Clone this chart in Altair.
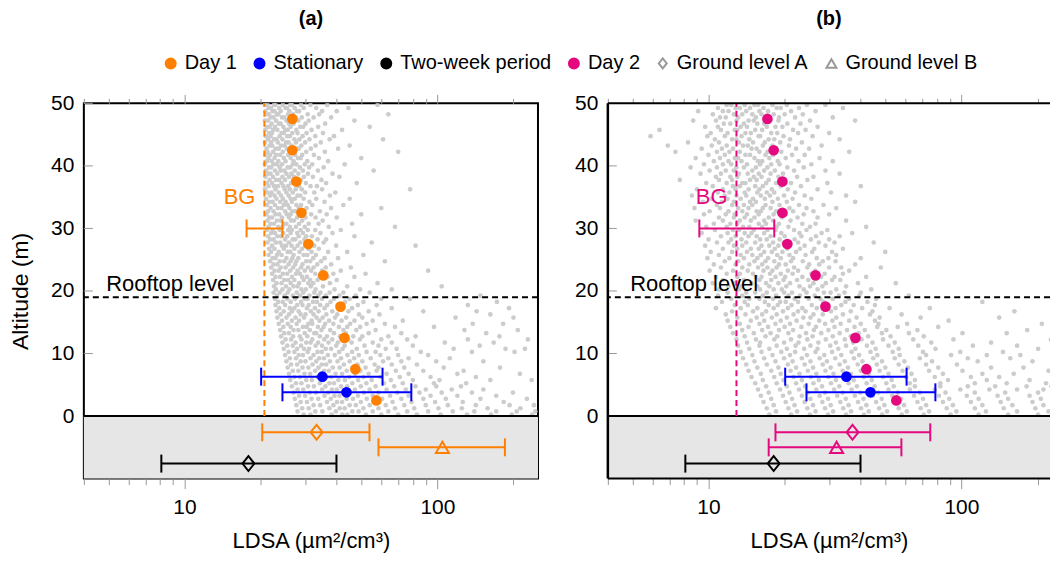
import altair as alt
import pandas as pd

FONT = "Liberation Sans"
ORANGE = "#ff8000"
PINK = "#e5097f"
BLUE = "#0000ff"
BLACK = "#000000"
CLOUD = "#cccccc"
GROUND_FILL = "#e6e6e6"
TICK_GRAY = "#999999"

# ---------------- data ----------------
heights = [47.5, 42.5, 37.5, 32.5, 27.5, 22.5, 17.5, 12.5, 7.5, 2.5]
day1_ldsa = [26.7, 26.7, 27.7, 29.0, 30.9, 35.4, 41.4, 42.9, 47.4, 57.4]
day2_ldsa = [17.1, 18.1, 19.6, 19.6, 20.5, 26.5, 29.0, 38.1, 42.1, 55.3]

stat_alt = [6.3, 3.8]
stat_ldsa = [35.1, 43.7]
stat_lo = [20.1, 24.4]
stat_hi = [60.7, 78.9]

bg_alt = [30]
bg_label_alt = [35]
bg_a = [20.7]
bg_a_lo = [17.6]
bg_a_hi = [24.4]
bg_b = [12.9]
bg_b_lo = [9.2]
bg_b_hi = [18.2]

ground_names = ["Ground level A", "Ground level B", "Two-week period"]
ground_alt = [-2.6, -5.0, -7.6]
ground_a_ldsa = [33.3, 104.7, 17.9]
ground_a_lo = [20.3, 58.5, 8.1]
ground_a_hi = [53.9, 185.0, 39.9]
ground_b_ldsa = [37.1, 32.1, 18.1]
ground_b_lo = [18.4, 17.3, 8.1]
ground_b_hi = [75.3, 57.9, 39.9]

rooftop_alt = [19]
rooftop_label_x = [4.9]
ground_top = [0]
ground_bottom = [-10]
alt_top = [50]
x_domain_a = [4, 250]
x_domain_b = [4, 224]

x_ticks = [4, 5, 6, 7, 8, 9, 10, 20, 30, 40, 50, 60, 70, 80, 90, 100, 200]
y_ticks = [0, 10, 20, 30, 40, 50]

legend_names = ["Day 1", "Stationary", "Two-week period", "Day 2", "Ground level A", "Ground level B"]

# background cloud of individual readings (altitude row, LDSA values)
cloud_a = [
    (49.75, [20.8, 21.3, 22.6, 22.9, 24.5, 26.2, 26.6, 28.9, 31.5, 36.7, 58]),
    (49.25, [21.5, 22.0, 23.7, 25.1, 25.4, 27.3, 29.6, 33.2, 44.5]),
    (48.75, [20.9, 22.3, 22.7, 24.0, 26.0, 27.9, 28.4, 35.0, 40]),
    (48.25, [21.1, 21.6, 23.2, 23.5, 25.7, 26.9, 30.7, 34.1, 64]),
    (47.75, [21.9, 22.5, 24.3, 24.8, 27.5, 29.1, 32.4, 38]),
    (47.25, [20.8, 21.4, 23.0, 25.3, 26.4, 26.8, 28.2, 31.0, 47]),
    (46.75, [22.1, 23.6, 24.0, 25.9, 27.0, 30.1, 36.0]),
    (46.25, [21.2, 21.7, 22.8, 24.6, 26.3, 28.7, 29.5, 33.8, 54]),
    (45.75, [20.9, 22.4, 23.3, 25.0, 25.6, 27.7, 31.8, 42]),
    (45.25, [21.6, 22.2, 24.2, 24.7, 26.7, 28.0, 30.4, 35.3]),
    (44.75, [21.0, 21.9, 23.8, 25.5, 26.1, 29.3, 32.9, 39]),
    (44.25, [21.4, 22.6, 23.1, 24.4, 27.2, 28.5, 31.2, 37.5, 61]),
    (43.75, [20.8, 22.0, 23.4, 25.2, 25.8, 27.6, 30.0, 34.6]),
    (43.25, [21.7, 22.2, 24.1, 24.9, 26.5, 29.0, 33.0, 45]),
    (42.75, [21.1, 22.9, 23.6, 25.4, 27.9, 28.3, 31.6, 40.5]),
    (42.25, [21.3, 22.4, 24.5, 26.0, 26.6, 30.3, 35.9, 70]),
    (41.75, [20.9, 21.8, 23.0, 23.9, 25.7, 27.4, 29.2, 32.5]),
    (41.25, [21.5, 22.7, 24.7, 26.3, 28.1, 28.8, 34.0, 50]),
    (40.75, [21.2, 22.1, 23.5, 25.1, 27.0, 30.6, 37.0]),
    (40.25, [20.8, 22.5, 23.2, 24.3, 26.8, 27.7, 29.9, 32.0, 43]),
    (39.75, [21.6, 22.0, 23.8, 25.6, 26.2, 28.6, 31.1, 35.5]),
    (39.25, [21.0, 22.8, 24.0, 24.8, 27.3, 29.4, 33.7, 56]),
    (38.75, [21.4, 21.9, 23.3, 25.3, 26.5, 28.2, 30.8, 38.5]),
    (38.25, [20.9, 22.4, 24.4, 25.9, 27.1, 29.7, 32.2, 41]),
    (37.75, [21.7, 23.0, 23.7, 25.0, 26.9, 28.9, 34.8]),
    (37.25, [21.2, 22.2, 24.2, 26.4, 27.8, 30.2, 36.3, 48]),
    (36.75, [21.5, 22.6, 23.4, 24.6, 25.7, 28.4, 31.5, 33.4]),
    (36.25, [20.8, 22.9, 24.9, 26.1, 27.5, 29.1, 35.0, 78]),
    (35.75, [21.3, 22.1, 23.6, 25.3, 26.8, 30.0, 32.6, 39.5]),
    (35.25, [21.8, 22.7, 24.1, 25.8, 28.0, 28.7, 37.6]),
    (34.75, [21.0, 23.1, 24.5, 26.3, 27.3, 29.6, 33.2, 45]),
    (34.25, [21.6, 22.3, 23.9, 25.1, 26.6, 31.2, 35.8]),
    (33.75, [21.2, 22.8, 24.7, 25.6, 27.7, 28.9, 32.0, 42.5]),
    (33.25, [21.9, 23.4, 24.2, 26.0, 28.3, 30.4, 38.0, 60]),
    (32.75, [21.4, 22.5, 25.0, 26.7, 27.4, 29.5, 34.3]),
    (32.25, [21.1, 22.9, 23.7, 25.4, 26.3, 28.6, 31.7, 36.5, 50]),
    (31.75, [21.7, 22.2, 24.3, 25.9, 27.9, 30.1, 33.0, 40]),
    (31.25, [21.3, 23.2, 24.0, 26.4, 27.1, 29.2, 35.2]),
    (30.75, [21.9, 22.6, 24.8, 25.3, 28.4, 31.0, 33.9, 46]),
    (30.25, [21.5, 23.5, 24.4, 26.1, 27.6, 29.9, 37.2, 68]),
    (29.75, [21.2, 22.3, 23.8, 25.7, 26.6, 28.8, 30.7, 32.9, 41.5]),
    (29.25, [22.0, 22.8, 24.6, 26.3, 27.9, 29.4, 34.5, 38.5]),
    (28.75, [21.4, 23.3, 24.1, 25.5, 28.3, 30.3, 31.9, 47]),
    (28.25, [21.8, 22.5, 25.0, 26.8, 27.4, 29.8, 33.6, 36.3]),
    (27.75, [21.3, 23.0, 23.9, 25.9, 28.7, 31.3, 35.5, 55]),
    (27.25, [22.2, 24.3, 25.2, 26.5, 28.0, 30.0, 32.6, 39.8, 82]),
    (26.75, [21.6, 22.7, 24.7, 27.2, 29.2, 30.9, 34.0]),
    (26.25, [22.0, 23.6, 25.6, 26.2, 28.5, 31.8, 37.0, 44]),
    (25.75, [21.5, 23.2, 24.2, 27.0, 29.6, 30.6, 33.1, 51]),
    (25.25, [22.3, 22.9, 25.3, 26.7, 28.2, 32.3, 35.8, 40.5]),
    (24.75, [21.8, 23.8, 24.8, 26.3, 27.7, 30.3, 31.4, 34.7, 62]),
    (24.25, [22.5, 23.3, 25.8, 27.4, 29.3, 33.5, 38.0]),
    (23.75, [22.0, 24.0, 25.1, 26.9, 28.9, 30.8, 32.4, 36.2, 45.5]),
    (23.25, [22.7, 23.6, 26.2, 28.0, 29.9, 31.7, 35.0, 41.5, 92]),
    (22.75, [22.2, 24.5, 25.5, 27.6, 28.6, 32.9, 38.8, 52]),
    (22.25, [22.9, 23.9, 26.6, 29.2, 30.5, 34.2, 36.8, 47]),
    (21.75, [22.4, 24.8, 25.7, 27.2, 29.6, 31.4, 33.6, 40.0]),
    (21.25, [23.1, 24.2, 26.3, 28.4, 30.9, 32.3, 37.6, 58]),
    (20.75, [22.6, 25.2, 27.0, 28.0, 31.6, 35.3, 44.0, 104]),
    (20.25, [23.0, 24.4, 26.0, 29.0, 30.2, 33.0, 39.2, 49.5, 66]),
    (19.75, [22.5, 23.8, 25.6, 27.8, 29.5, 32.6, 34.5, 37.5, 42.5, 54]),
    (19.25, [23.2, 24.9, 26.8, 28.6, 31.2, 33.8, 36.2, 41.0, 47.5, 148]),
    (18.75, [22.8, 25.5, 27.4, 29.9, 30.7, 35.0, 39.0, 45.0, 60, 78]),
    (18.25, [23.5, 24.5, 26.3, 28.9, 32.2, 33.4, 37.8, 43.2, 51, 172]),
    (17.75, [22.9, 25.0, 27.9, 29.3, 31.0, 34.4, 36.7, 40.5, 48.5, 57.5, 132]),
    (17.25, [23.7, 26.1, 27.2, 30.5, 32.8, 35.8, 42.0, 46.0, 66, 192]),
    (16.75, [23.1, 24.7, 26.6, 28.3, 31.6, 33.9, 38.4, 44.5, 53.5, 88, 143]),
    (16.25, [24.0, 25.9, 28.8, 30.1, 32.4, 36.4, 40.2, 49.0, 59, 162]),
    (15.75, [23.3, 25.3, 27.5, 29.7, 33.3, 35.2, 39.4, 43.6, 50.5, 118, 200]),
    (15.25, [24.3, 26.6, 28.4, 31.8, 34.2, 37.3, 41.8, 47.0, 55.5, 73]),
    (14.75, [23.6, 25.6, 27.8, 30.9, 32.0, 36.0, 38.8, 45.2, 52.5, 62, 138, 182]),
    (14.25, [24.6, 26.3, 29.4, 30.4, 33.7, 35.5, 40.8, 44.0, 49.5, 68, 97]),
    (13.75, [23.9, 27.0, 28.2, 31.3, 34.8, 37.7, 42.5, 47.8, 57, 128, 208]),
    (13.25, [24.8, 25.9, 29.9, 32.6, 33.2, 39.0, 43.4, 53.5, 72, 156]),
    (12.75, [24.1, 26.9, 28.6, 30.6, 34.3, 36.6, 41.2, 46.5, 50.5, 64, 82, 176]),
    (12.25, [25.1, 26.4, 29.0, 32.0, 35.7, 38.4, 44.4, 49.4, 60, 76, 132, 228]),
    (11.75, [24.4, 27.5, 30.3, 31.5, 33.8, 37.1, 40.4, 45.8, 55.5, 66, 107, 167]),
    (11.25, [25.5, 26.8, 28.9, 33.0, 35.0, 39.8, 43.0, 51.5, 58.5, 80, 147]),
    (10.75, [24.7, 27.9, 29.7, 31.1, 36.2, 38.0, 42.2, 48.0, 62.5, 69, 116, 186, 222]),
    (10.25, [25.8, 27.2, 30.7, 33.6, 34.9, 40.9, 46.0, 52.5, 57, 86, 137, 202]),
    (9.75, [25.0, 28.3, 29.4, 32.4, 36.9, 39.3, 44.1, 48.9, 59.5, 70, 92]),
    (9.25, [26.1, 27.6, 31.5, 34.1, 35.6, 41.6, 46.9, 54.5, 64, 77, 112]),
    (8.75, [25.3, 28.8, 30.1, 33.2, 37.6, 40.3, 45.0, 50.5, 61, 72, 99, 152]),
    (8.25, [26.4, 27.9, 32.1, 34.9, 36.3, 42.7, 48.3, 56.5, 66, 83]),
    (7.75, [25.6, 29.3, 30.9, 33.9, 38.6, 41.1, 46.2, 52.0, 58.5, 74, 106, 177]),
    (7.25, [26.8, 28.2, 32.9, 35.7, 37.2, 43.8, 49.6, 57.5, 68.5, 88, 127]),
    (6.75, [25.9, 29.8, 31.4, 34.6, 39.6, 42.0, 47.3, 53.5, 63, 77, 120, 212]),
    (6.25, [27.2, 28.6, 33.6, 36.5, 38.1, 44.9, 51.0, 59.5, 71, 94, 142]),
    (5.75, [26.2, 30.3, 31.9, 35.3, 40.6, 43.1, 48.6, 55.0, 65.5, 80, 102, 162, 236]),
    (5.25, [27.6, 29.0, 34.3, 37.4, 39.0, 46.1, 52.4, 61.5, 73, 97, 130]),
    (4.75, [26.6, 30.8, 32.5, 36.1, 41.6, 44.0, 49.8, 57.0, 67.5, 82, 99, 124]),
    (4.25, [28.0, 29.5, 35.0, 38.3, 40.0, 47.2, 54.0, 63.0, 75, 90, 114, 152]),
    (3.75, [27.0, 31.3, 33.1, 37.0, 42.7, 45.2, 51.2, 58.5, 69.5, 85, 104, 137, 199]),
    (3.25, [28.4, 30.0, 35.8, 39.2, 41.0, 48.5, 55.5, 65.0, 77, 94, 120, 171]),
    (2.75, [27.3, 31.8, 33.8, 37.9, 43.8, 46.4, 52.6, 60.5, 72, 88, 108, 148, 226]),
    (2.25, [28.8, 30.5, 36.6, 40.1, 42.0, 49.8, 57.0, 66.5, 79, 98, 126, 183]),
    (1.75, [27.7, 32.4, 34.4, 38.8, 45.0, 47.6, 54.0, 62.5, 74, 90, 110, 142, 193, 241]),
    (1.25, [29.2, 31.0, 37.4, 41.1, 43.0, 51.0, 58.5, 68.0, 81, 101, 125, 158, 213]),
    (0.75, [28.0, 32.9, 35.1, 39.7, 46.1, 48.8, 55.5, 64.0, 76, 92, 115, 140, 171, 206, 244]),
    (0.25, [29.6, 31.5, 38.2, 42.1, 44.1, 52.2, 60.0, 70.0, 83, 103, 131, 163, 197, 237]),
]

cloud_b = [
    (49.75, [11.8, 12.3, 13.9, 15.2, 15.7, 17.9, 20.4, 24.5, 29]),
    (49.25, [10.9, 12.8, 13.3, 14.6, 16.5, 18.6, 19.3, 22.8, 34]),
    (48.75, [9.1, 11.4, 12.0, 14.1, 15.9, 17.2, 21.2, 26.5]),
    (48.25, [10.4, 12.6, 13.6, 14.9, 16.2, 18.1, 20.0, 23.6]),
    (47.75, [11.1, 11.7, 13.1, 15.4, 17.5, 19.0, 22.0, 31]),
    (47.25, [8.7, 10.7, 12.9, 14.4, 15.1, 16.9, 18.9, 25.2, 38]),
    (46.75, [11.5, 12.2, 13.8, 15.6, 16.6, 20.5, 23.1]),
    (46.25, [9.7, 10.9, 13.4, 14.2, 17.0, 18.4, 19.6, 27]),
    (45.75, [6.4, 11.2, 12.7, 13.0, 15.3, 16.3, 21.6, 24.2]),
    (45.25, [10.2, 11.9, 14.0, 14.7, 17.7, 18.7, 22.6, 30]),
    (44.75, [5.9, 9.9, 11.6, 13.5, 15.8, 16.0, 19.8, 25.8]),
    (44.25, [10.6, 12.4, 12.9, 14.5, 17.3, 18.2, 21.0, 33]),
    (43.75, [8.3, 11.0, 13.2, 15.0, 16.7, 19.2, 23.4]),
    (43.25, [6.9, 10.3, 11.8, 13.7, 14.3, 16.4, 17.9, 20.8, 28]),
    (42.75, [9.4, 11.3, 12.5, 14.8, 15.5, 18.5, 22.2, 25.0]),
    (42.25, [7.4, 10.8, 12.1, 13.3, 15.9, 17.1, 19.4, 36]),
    (41.75, [10.0, 11.6, 14.0, 14.6, 16.8, 18.0, 21.4, 24.0]),
    (41.25, [8.9, 11.1, 12.7, 13.1, 15.2, 17.4, 20.2, 27.5]),
    (40.75, [10.5, 12.0, 13.5, 15.7, 16.3, 18.8, 22.7, 31]),
    (40.25, [9.6, 11.4, 12.3, 14.2, 16.0, 17.7, 19.1, 25.5]),
    (39.75, [8.5, 10.8, 12.9, 13.8, 15.4, 17.1, 20.5, 23.8]),
    (39.25, [10.1, 11.7, 12.6, 14.9, 16.6, 18.3, 21.8, 29]),
    (38.75, [9.3, 11.2, 13.2, 14.3, 15.8, 17.6, 19.7, 33]),
    (38.25, [10.7, 12.2, 13.0, 15.1, 16.2, 18.9, 22.4, 26]),
    (37.75, [7.7, 11.0, 12.4, 14.6, 15.5, 17.3, 20.0, 24.6]),
    (37.25, [9.8, 11.8, 13.6, 14.0, 16.9, 18.5, 21.2, 29.5]),
    (36.75, [10.4, 12.5, 13.3, 15.3, 16.4, 19.3, 23.2, 40]),
    (36.25, [9.0, 11.4, 12.8, 14.4, 15.9, 17.8, 20.6, 27]),
    (35.75, [10.9, 12.1, 13.9, 15.6, 17.0, 18.2, 22.0, 30.5]),
    (35.25, [8.6, 11.6, 12.9, 14.1, 16.1, 17.5, 19.9, 24.0, 35]),
    (34.75, [10.3, 11.9, 13.4, 15.0, 16.7, 18.8, 21.5, 25.5]),
    (34.25, [9.5, 11.3, 12.6, 14.6, 15.4, 17.9, 20.4, 38]),
    (33.75, [10.8, 12.4, 13.8, 14.9, 16.8, 19.1, 22.8, 28.5]),
    (33.25, [8.8, 11.1, 13.1, 14.4, 16.4, 17.6, 20.9, 24.4, 32]),
    (32.75, [10.1, 12.0, 13.6, 15.5, 16.1, 18.5, 21.6, 26]),
    (32.25, [9.6, 11.7, 12.7, 14.2, 15.8, 18.1, 20.2, 23.8, 30]),
    (31.75, [11.0, 12.6, 13.9, 15.2, 17.3, 19.5, 22.5, 27]),
    (31.25, [8.9, 11.4, 13.3, 14.7, 16.6, 18.0, 21.1, 35]),
    (30.75, [10.5, 12.2, 13.0, 15.8, 16.9, 19.0, 23.5, 26.5]),
    (30.25, [9.8, 11.8, 13.7, 14.5, 16.3, 18.6, 20.7, 25.2, 42]),
    (29.75, [10.6, 12.5, 13.2, 15.1, 17.1, 18.4, 21.8, 24.4, 29.5]),
    (29.25, [9.4, 11.9, 13.9, 14.8, 16.6, 19.4, 22.9, 28.0, 37]),
    (28.75, [11.2, 12.8, 14.4, 15.5, 17.6, 20.0, 23.3, 26.6, 33]),
    (28.25, [10.0, 12.3, 13.5, 16.0, 17.0, 19.1, 21.9, 25.4, 30]),
    (27.75, [10.8, 12.0, 14.1, 15.3, 18.0, 19.8, 22.6, 27.3, 31.5, 45]),
    (27.25, [9.7, 12.6, 13.6, 16.2, 17.4, 18.9, 24.0, 29]),
    (26.75, [11.4, 13.0, 14.7, 15.8, 18.3, 20.5, 23.0, 26.2, 34]),
    (26.25, [10.2, 12.4, 14.2, 16.6, 17.8, 19.6, 22.2, 25.7, 30.8, 50]),
    (25.75, [11.0, 13.4, 14.9, 16.1, 18.7, 20.9, 24.2, 32]),
    (25.25, [9.9, 12.1, 13.8, 15.6, 17.2, 19.3, 21.6, 26.8, 29.8, 40]),
    (24.75, [11.6, 13.1, 15.2, 16.8, 18.2, 21.2, 23.6, 28.3, 31.8]),
    (24.25, [10.5, 12.8, 14.5, 16.3, 19.0, 20.2, 25.0, 27.4, 38]),
    (23.75, [11.2, 13.6, 15.7, 17.1, 18.6, 21.8, 24.6, 30.0, 33.5, 48]),
    (23.25, [10.1, 12.5, 14.3, 16.5, 17.9, 20.6, 22.6, 26.4, 36]),
    (22.75, [11.8, 13.3, 15.0, 17.5, 19.3, 21.5, 25.5, 28.8, 34]),
    (22.25, [10.7, 13.0, 15.4, 16.2, 18.4, 20.1, 23.5, 27.9, 31.5, 42]),
    (21.75, [11.4, 13.8, 15.9, 17.7, 19.8, 22.4, 24.8, 30.8, 33.2]),
    (21.25, [10.4, 12.7, 14.8, 16.9, 18.9, 21.0, 26.0, 29.1, 39, 55]),
    (20.75, [12.0, 13.5, 15.6, 17.4, 20.3, 22.9, 25.2, 28.2, 35]),
    (20.25, [11.0, 13.2, 16.0, 18.1, 19.5, 23.8, 27.0, 32.0, 44]),
    (19.75, [11.9, 14.1, 15.3, 17.0, 19.9, 21.4, 24.4, 28.6, 30.4, 34.5, 40]),
    (19.25, [10.9, 13.6, 16.4, 18.5, 20.7, 23.0, 26.3, 32.8, 39.5, 62]),
    (18.75, [12.3, 14.5, 15.9, 18.0, 21.9, 24.9, 27.7, 31.0, 36.0, 46]),
    (18.25, [11.3, 13.9, 16.7, 19.2, 20.2, 22.6, 28.5, 34.8, 42.5, 121]),
    (17.75, [12.7, 14.3, 17.3, 18.8, 21.3, 25.6, 29.7, 33.5, 37.5, 45.5]),
    (17.25, [10.7, 13.4, 15.6, 18.1, 20.6, 23.5, 26.8, 31.8, 40.5, 52, 75]),
    (16.75, [12.4, 15.0, 16.9, 19.7, 22.6, 24.2, 30.5, 36.5, 44.5, 162]),
    (16.25, [11.7, 14.0, 16.3, 18.6, 21.7, 26.0, 28.3, 34.0, 43.5, 58]),
    (15.75, [13.0, 15.5, 17.8, 20.4, 23.7, 25.3, 32.0, 38.5, 47.5, 69, 141]),
    (15.25, [11.9, 14.7, 16.6, 19.3, 22.3, 27.4, 30.9, 36.0, 45.5, 89]),
    (14.75, [13.3, 15.9, 18.4, 21.0, 24.9, 28.9, 33.3, 40.0, 47.0, 61, 208]),
    (14.25, [12.2, 14.4, 17.2, 20.0, 23.3, 26.6, 31.5, 37.8, 46.5, 56, 81]),
    (13.75, [13.6, 16.3, 19.0, 21.6, 26.1, 29.8, 35.3, 41.5, 50.5, 67, 182]),
    (13.25, [12.5, 15.1, 17.6, 20.7, 24.3, 27.9, 33.0, 39.2, 48.5, 62, 101, 151]),
    (12.75, [13.9, 16.8, 18.7, 22.9, 25.8, 31.0, 36.5, 42.8, 52.5, 71]),
    (12.25, [12.9, 15.4, 18.2, 21.2, 24.6, 29.1, 34.6, 40.3, 49.0, 64.5, 93, 226]),
    (11.75, [14.2, 16.0, 19.9, 22.7, 27.2, 31.9, 37.3, 44.5, 54.5, 76, 131]),
    (11.25, [13.1, 15.9, 18.6, 22.1, 25.3, 30.3, 35.0, 42.3, 51.5, 67.5, 111, 166]),
    (10.75, [14.5, 17.4, 20.4, 23.9, 27.0, 32.6, 38.1, 45.8, 56.5, 79, 201]),
    (10.25, [13.4, 16.2, 19.4, 22.0, 26.5, 30.8, 36.8, 43.7, 53.5, 70.5, 99, 146]),
    (9.75, [14.9, 17.9, 21.0, 24.5, 28.7, 33.5, 39.4, 46.5, 57.0, 72.5, 91, 126, 171]),
    (9.25, [13.7, 16.6, 19.9, 23.4, 27.5, 31.7, 37.6, 44.8, 54.5, 68.5, 106, 156]),
    (8.75, [15.2, 18.4, 21.5, 25.3, 29.4, 34.6, 40.6, 48.5, 59.5, 76.5, 116, 191, 231]),
    (8.25, [14.1, 17.0, 20.6, 24.0, 28.3, 33.0, 38.9, 46.3, 56.5, 72.5, 96]),
    (7.75, [15.6, 18.9, 22.2, 25.9, 30.4, 35.6, 41.8, 50.0, 61.5, 81, 131, 176]),
    (7.25, [14.4, 17.7, 21.1, 24.7, 29.0, 33.9, 40.0, 47.5, 58.5, 74.5, 101, 221]),
    (6.75, [16.1, 19.3, 22.9, 26.7, 31.2, 36.6, 43.1, 51.5, 63.5, 84.5, 121, 161]),
    (6.25, [14.8, 18.2, 21.7, 25.4, 29.8, 34.9, 41.1, 49.0, 60.5, 78.5, 109, 141, 233]),
    (5.75, [16.4, 19.8, 23.4, 27.3, 31.9, 37.5, 44.2, 53.0, 65.5, 88.5, 126, 186]),
    (5.25, [15.3, 18.6, 22.2, 26.0, 30.5, 35.8, 42.2, 50.5, 62.5, 82.5, 113, 151, 216]),
    (4.75, [16.9, 20.4, 24.1, 28.1, 32.9, 38.6, 45.4, 54.0, 65.5, 82.5, 106, 136, 181, 227]),
    (4.25, [15.7, 19.2, 22.8, 26.7, 31.4, 36.8, 43.4, 51.5, 62.5, 78.5, 99, 129, 166, 211]),
    (3.75, [17.3, 20.9, 24.7, 28.9, 33.9, 39.8, 46.9, 56.0, 68.5, 86.5, 113, 149, 201]),
    (3.25, [16.1, 19.7, 23.4, 27.5, 32.3, 37.9, 44.6, 53.3, 65.0, 81.5, 105, 139, 186, 231]),
    (2.75, [17.7, 21.4, 25.3, 29.7, 34.9, 41.0, 48.4, 57.8, 70.5, 89.5, 117, 153, 206]),
    (2.25, [16.5, 20.2, 24.0, 28.2, 33.2, 39.0, 46.0, 54.9, 67.0, 84.5, 109, 143, 191, 229]),
    (1.75, [18.1, 21.9, 25.9, 30.4, 35.8, 42.1, 49.6, 59.3, 72.5, 92.5, 121, 159, 211]),
    (1.25, [17.0, 20.7, 24.6, 28.9, 34.1, 40.1, 47.3, 56.5, 69.0, 87.5, 113, 147, 196, 232]),
    (0.75, [18.5, 22.4, 26.5, 31.1, 36.6, 43.0, 50.8, 60.8, 74.5, 95.5, 125, 166, 221]),
    (0.25, [17.4, 21.2, 25.2, 29.7, 35.0, 41.2, 48.6, 58.1, 71.0, 90.5, 117, 153, 201, 230]),
]

# ---------------- styling ----------------
WA, WB, H = 455, 443, 376
YS = alt.Scale(domain=[ground_bottom[0], alt_top[0]], nice=False, zero=False)
MAJOR = "datum.value == 10 || datum.value == 100"


def x_axes():
    bottom = alt.Axis(
        orient="bottom", values=x_ticks, title="LDSA (µm²/cm³)",
        labelExpr="datum.value == 10 ? '10' : datum.value == 100 ? '100' : ''",
        tickSize={"condition": {"test": MAJOR, "value": 10}, "value": 6},
        tickColor=TICK_GRAY, tickWidth=1, domain=False, grid=False,
        labelFontSize=21, labelFont=FONT, labelColor="black", labelPadding=8,
        titleFontSize=22, titleFont=FONT, titleFontWeight="normal", titleColor="black",
        titlePadding=13,
    )
    top = alt.Axis(
        orient="top", values=x_ticks, title=None, labels=False,
        tickSize={"condition": {"test": MAJOR, "value": 9}, "value": 5},
        tickColor=TICK_GRAY, tickWidth=1, domain=False, grid=False,
    )
    return bottom, top


def y_axis(title):
    return alt.Axis(
        values=y_ticks, title=title, ticks=False, domain=False, grid=False,
        labelFontSize=21, labelFont=FONT, labelColor="black", labelPadding=10,
        titleFontSize=23, titleFont=FONT, titleFontWeight="normal", titleColor="black",
        titlePadding=18,
    )


def panel(tag, color, day_vals, bg, bg_lo, bg_hi, g_mid, g_lo, g_hi, cloud, ytitle,
          with_legend, width, xdomain, framed):
    XS = alt.Scale(type="log", domain=xdomain, nice=False)
    XB, XT = x_axes()
    YA = y_axis(ytitle)

    def xq(field, axis=None):
        return alt.X(field, type="quantitative", scale=XS, axis=axis)

    def yq(field):
        return alt.Y(field, type="quantitative", scale=YS, axis=YA)

    ground = alt.Chart(pd.DataFrame({"lo": ground_bottom, "hi": ground_top})).mark_rect(
        color=GROUND_FILL).encode(y=yq("lo"), y2="hi:Q", x=alt.value(0), x2=alt.value(width))

    cdf = pd.DataFrame([(a, v) for a, vals in cloud for v in vals], columns=["alt", "ldsa"])
    pts = alt.Chart(cdf).mark_circle(size=22, color=CLOUD, opacity=1, clip=True).encode(
        x=xq("ldsa", XB), y=yq("alt"))

    yt = alt.Chart(pd.DataFrame({"alt": y_ticks})).mark_rule(color=TICK_GRAY, strokeWidth=1).encode(
        y=yq("alt"), x=alt.value(0), x2=alt.value(9))

    zero = alt.Chart(pd.DataFrame({"alt": ground_top})).mark_rule(color="black", strokeWidth=2).encode(
        y=yq("alt"))

    roof = alt.Chart(pd.DataFrame({"alt": rooftop_alt})).mark_rule(
        color="black", strokeWidth=2, strokeDash=[6, 4]).encode(y=yq("alt"))
    roof_txt = alt.Chart(pd.DataFrame({"alt": rooftop_alt, "x": rooftop_label_x, "t": ["Rooftop level"]})).mark_text(
        align="left", baseline="alphabetic", dy=-6, fontSize=22, font=FONT, color="black").encode(
        x=xq("x"), y=yq("alt"), text="t:N")

    bgdf = pd.DataFrame({"ldsa": bg, "lo": bg_lo, "hi": bg_hi, "alt": bg_alt,
                         "top": alt_top, "bottom": ground_top, "lab": bg_label_alt, "t": ["BG"]})
    bg_line = alt.Chart(bgdf).mark_rule(color=color, strokeWidth=2, strokeDash=[6, 4]).encode(
        x=xq("ldsa", XT), y=yq("bottom"), y2="top:Q")
    bg_bar = alt.Chart(bgdf).mark_rule(color=color, strokeWidth=2).encode(
        x=xq("lo"), x2="hi:Q", y=yq("alt"))
    bg_caps = alt.Chart(pd.DataFrame({"x": bg_lo + bg_hi, "alt": bg_alt * 2})).mark_tick(
        orient="vertical", size=18, thickness=2, color=color, opacity=1).encode(x=xq("x"), y=yq("alt"))
    bg_txt = alt.Chart(bgdf).mark_text(align="right", baseline="middle", dx=-9, fontSize=22,
                                       font=FONT, color=color).encode(x=xq("ldsa"), y=yq("lab"), text="t:N")

    sdf = pd.DataFrame({"alt": stat_alt, "ldsa": stat_ldsa, "lo": stat_lo, "hi": stat_hi})
    s_bar = alt.Chart(sdf).mark_rule(color=BLUE, strokeWidth=2).encode(x=xq("lo"), x2="hi:Q", y=yq("alt"))
    s_caps = alt.Chart(pd.DataFrame({"x": stat_lo + stat_hi, "alt": stat_alt * 2})).mark_tick(
        orient="vertical", size=18, thickness=2, color=BLUE, opacity=1).encode(x=xq("x"), y=yq("alt"))
    s_pts = alt.Chart(sdf).mark_circle(size=115, color=BLUE, opacity=1).encode(x=xq("ldsa"), y=yq("alt"))

    ddf = pd.DataFrame({"alt": heights, "ldsa": day_vals})
    d_pts = alt.Chart(ddf).mark_circle(size=115, color=color, opacity=1).encode(x=xq("ldsa"), y=yq("alt"))

    gcol = [color, color, BLACK]
    gshape = ["M0,-1L0.8,0L0,1L-0.8,0Z", "M0,-0.85L1,0.85L-1,0.85Z", "M0,-1L0.8,0L0,1L-0.8,0Z"]
    gsize = [220, 170, 220]
    gdf = pd.DataFrame({"name": ground_names, "alt": ground_alt, "ldsa": g_mid, "lo": g_lo, "hi": g_hi,
                        "c": gcol, "s": gshape, "z": gsize})
    g_bar = alt.Chart(gdf).mark_rule(strokeWidth=2).encode(
        x=xq("lo"), x2="hi:Q", y=yq("alt"), color=alt.Color("c:N", scale=None))
    cap_df = pd.DataFrame({"x": g_lo + g_hi, "alt": ground_alt * 2, "c": gcol * 2})
    g_caps = alt.Chart(cap_df).mark_tick(orient="vertical", size=18, thickness=2, opacity=1).encode(
        x=xq("x"), y=yq("alt"), color=alt.Color("c:N", scale=None))
    g_pts = alt.Chart(gdf).mark_point(filled=False, strokeWidth=2, opacity=1).encode(
        x=xq("ldsa"), y=yq("alt"),
        stroke=alt.Stroke("c:N", scale=None),
        shape=alt.Shape("s:N", scale=None),
        size=alt.Size("z:Q", scale=None))

    layers = [ground, pts, yt, zero, roof, bg_line, bg_bar, bg_caps, s_bar, s_caps, s_pts, d_pts,
              g_bar, g_caps, g_pts, roof_txt, bg_txt]

    if not framed:
        # frame on three sides only (the right edge is cut off as in the source figure)
        fh = alt.Chart(pd.DataFrame({"alt": ground_bottom + alt_top})).mark_rule(
            color="black", strokeWidth=2).encode(y=yq("alt"))
        fv = alt.Chart(pd.DataFrame({"x": [xdomain[0]]})).mark_rule(
            color="black", strokeWidth=2.5).encode(x=xq("x"))
        layers += [fh, fv]

    if with_legend:
        leg = alt.Legend(title=None, orient="none", direction="horizontal", legendX=77, legendY=-50,
                         labelFontSize=20, labelFont=FONT, labelColor="black", labelOffset=4,
                         symbolStrokeWidth=2, columnPadding=12)
        lfill = [ORANGE, BLUE, BLACK, PINK, "transparent", "transparent"]
        lstroke = [ORANGE, BLUE, BLACK, PINK, TICK_GRAY, TICK_GRAY]
        lshape = ["circle", "circle", "circle", "circle",
                  "M0,-1L0.8,0L0,1L-0.8,0Z", "M0,-0.85L1,0.85L-1,0.85Z"]
        lsize = [100, 100, 100, 100, 170, 140]
        ldf = pd.DataFrame({"series": legend_names})
        legend_layer = alt.Chart(ldf).transform_filter("false").mark_point(opacity=1).encode(
            fill=alt.Fill("series:N", scale=alt.Scale(domain=legend_names, range=lfill), legend=leg),
            stroke=alt.Stroke("series:N", scale=alt.Scale(domain=legend_names, range=lstroke), legend=leg),
            shape=alt.Shape("series:N", scale=alt.Scale(domain=legend_names, range=lshape), legend=leg),
            size=alt.Size("series:N", scale=alt.Scale(domain=legend_names, range=lsize), legend=leg),
        )
        layers.append(legend_layer)

    view = alt.ViewBackground(stroke="black", strokeWidth=2) if framed else alt.ViewBackground(stroke="transparent")
    return alt.layer(*layers).resolve_axis(x="independent").properties(
        width=width, height=H, view=view,
        title=alt.TitleParams(tag, fontSize=20, fontWeight="bold", font=FONT, color="black",
                              anchor="middle", offset=63),
    )


pa = panel("(a)", ORANGE, day1_ldsa, bg_a, bg_a_lo, bg_a_hi, ground_a_ldsa, ground_a_lo, ground_a_hi,
           cloud_a, "Altitude (m)", True, WA, x_domain_a, True)
pb = panel("(b)", PINK, day2_ldsa, bg_b, bg_b_lo, bg_b_hi, ground_b_ldsa, ground_b_lo, ground_b_hi,
           cloud_b, None, False, WB, x_domain_b, False)

chart = alt.hconcat(pa, pb, spacing=70, bounds="flush").properties(
    padding={"left": 0, "top": 0, "right": 0, "bottom": 0}
).configure(font=FONT)

chart.save("out.html", embed_options={"renderer": "svg", "actions": False})
